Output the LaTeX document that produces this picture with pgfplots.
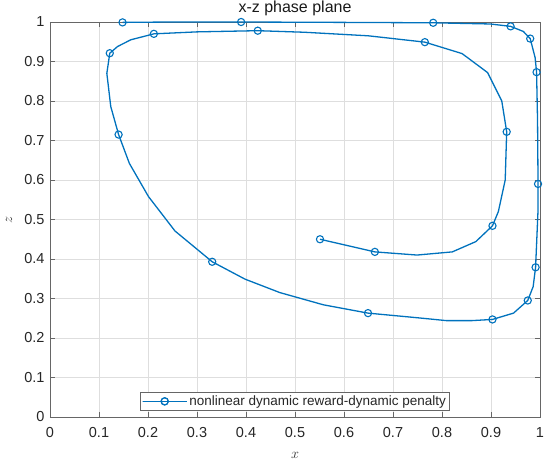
\documentclass[border=0pt]{standalone}
\usepackage{pgfplots}
\pgfplotsset{compat=1.18}
\usepackage{fontspec}
\setmainfont{Liberation Sans}
\usetikzlibrary{calc}
\definecolor{mblue}{rgb}{0,0.447,0.741}
\begin{document}
\begin{tikzpicture}
\begin{axis}[
  scale only axis, width=490bp, height=395bp,
  xmin=0, xmax=1, ymin=0, ymax=1,
  xtick={0,0.1,0.2,0.3,0.4,0.5,0.6,0.7,0.8,0.9,1},
  ytick={0,0.1,0.2,0.3,0.4,0.5,0.6,0.7,0.8,0.9,1},
  xticklabels={0,0.1,0.2,0.3,0.4,0.5,0.6,0.7,0.8,0.9,1},
  yticklabels={0,0.1,0.2,0.3,0.4,0.5,0.6,0.7,0.8,0.9,1},
  tick align=inside, tick pos=both, major tick length=5bp,
  tick style={black!60, line width=0.5bp},
  axis line style={black!60, line width=0.6bp},
  grid=major, major grid style={black!13, line width=0.5bp},
  tick label style={font=\fontsize{14.5bp}{17bp}\selectfont, text=black!85},
  xticklabel style={yshift=-7bp},
  yticklabel style={xshift=-2bp},
  title={x-z phase plane},
  title style={font=\fontsize{16bp}{19bp}\selectfont, text=black!90, at={(axis description cs:0.5,1)}, anchor=base, yshift=4bp},
  xlabel={$x$}, ylabel={$z$},
  xlabel style={font=\fontsize{15bp}{17bp}\selectfont, text=black!80, at={(axis description cs:0.5,0)}, anchor=base, yshift=-41bp},
  ylabel style={font=\fontsize{15bp}{17bp}\selectfont, text=black!80, at={(axis description cs:0,0.5)}, anchor=center, yshift=41bp},
  legend style={at={(axis description cs:0.5,0.016)}, anchor=south, draw=black!60, fill=white,
    font=\fontsize{13.5bp}{16bp}\selectfont, text=black!85, inner sep=1.5bp},
  legend cell align=left,
  legend image code/.code={\draw[#1] plot coordinates {(22bp,0bp) (22bp,0bp) (0bp,0bp) (44bp,0bp)};},
]
\addplot[mblue, line width=1.3bp, mark=o, mark size=3.6bp,
  mark options={line width=1.1bp},
  mark indices={1,2,6,9,13,16,18,21,24,28,32,36,38,40,42,44,46,48,50,52,54}]
coordinates {
(0.551,0.450) (0.663,0.418) (0.749,0.410) (0.821,0.418) (0.869,0.444)
(0.903,0.484) (0.915,0.520) (0.929,0.600) (0.932,0.722) (0.922,0.800)
(0.893,0.872) (0.841,0.920) (0.765,0.949) (0.650,0.965) (0.520,0.974)
(0.424,0.978) (0.300,0.975) (0.212,0.970) (0.165,0.955) (0.138,0.938)
(0.122,0.921) (0.116,0.870) (0.124,0.786) (0.140,0.715) (0.162,0.642)
(0.201,0.558) (0.255,0.471) (0.331,0.393) (0.398,0.349) (0.469,0.315)
(0.558,0.284) (0.649,0.263) (0.752,0.251) (0.809,0.244) (0.861,0.244)
(0.903,0.247) (0.946,0.263) (0.975,0.295) (0.986,0.330) (0.991,0.379)
(0.996,0.524) (0.996,0.590) (0.995,0.750) (0.993,0.873) (0.990,0.910)
(0.980,0.958) (0.966,0.976) (0.940,0.989) (0.898,0.995) (0.782,0.998)
(0.600,0.999) (0.390,1.000) (0.250,1.000) (0.148,0.999)
};
\addlegendentry{nonlinear dynamic reward-dynamic penalty}
\end{axis}
\pgfresetboundingbox
\path ($(current axis.south west)+(-50bp,-48bp)$) rectangle ($(current axis.north east)+(10bp,22bp)$);
\end{tikzpicture}
\end{document}
